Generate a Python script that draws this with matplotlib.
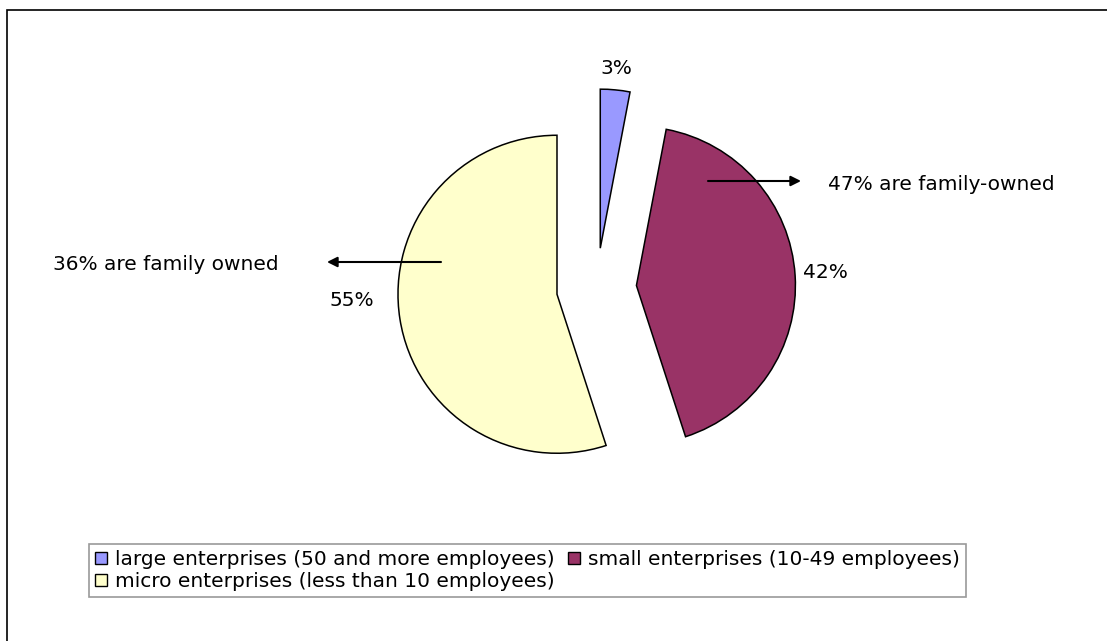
import numpy as np
import matplotlib.pyplot as plt
from matplotlib.patches import Rectangle

# Enterprise size shares (percent)
categories = ["large enterprises (50 and more employees)",
              "small enterprises (10-49 employees)",
              "micro enterprises (less than 10 employees)"]
shares = [3, 42, 55]
colors = ["#9999FF", "#993366", "#FFFFCC"]
family_notes = ["", "47% are family-owned", "36% are family owned"]

W, H = 1107, 641
FS = 14.5
plt.rcParams['font.family'] = ['DejaVu Sans']

fig = plt.figure(figsize=(W / 100, H / 100), dpi=100)
ax = fig.add_axes([0, 0, 1, 1])

# pie laid out in pixel units (y measured upward)
cx, cy, r = 596.5, H - 288, 159
wedges, _ = ax.pie(shares, explode=[40, 40, 40], center=(cx, cy), radius=r,
                   startangle=90, counterclock=False, colors=colors,
                   wedgeprops=dict(edgecolor="black", linewidth=1.1))
ax.set_xlim(0, W)
ax.set_ylim(0, H)
ax.set_aspect("equal")
ax.axis("off")

# percentage labels (pixel positions, image coords)
pct_xy = [(616, 69), (825, 272), (352, 300)]
for s, (x, y) in zip(shares, pct_xy):
    ax.text(x, H - y, f"{s}%", ha="center", va="center", fontsize=FS)

# family-owned annotations with arrows
arrow = dict(arrowstyle="-|>", color="black", lw=1.5,
             mutation_scale=15, shrinkA=0, shrinkB=0)
ax.annotate("", xy=(801, H - 181), xytext=(708, H - 181), arrowprops=arrow)
ax.text(828, H - 185, family_notes[1], fontsize=FS, va="center")
ax.annotate("", xy=(327, H - 262), xytext=(441, H - 262), arrowprops=arrow)
ax.text(53, H - 265, family_notes[2], fontsize=FS, va="center")

# legend: row 1 large + small, row 2 micro
order = [0, 2, 1]
leg = ax.legend([wedges[i] for i in order], [categories[i] for i in order],
                ncol=2, loc="upper left", bbox_to_anchor=(89 / W, 1 - 544 / H),
                fontsize=FS, frameon=True, fancybox=False, handlelength=0.6,
                handleheight=0.6, handletextpad=0.4, columnspacing=0.65,
                labelspacing=0.15, borderpad=0.3, borderaxespad=0)
leg.get_frame().set_edgecolor("#808080")
leg.get_frame().set_linewidth(1.2)
for h in leg.legend_handles:
    h.set_edgecolor("black")
    h.set_linewidth(1)

# outer chart border (only left and top visible)
fig.patches.append(Rectangle((7 / W, -0.1), 1.2, 1.1 - 10 / H,
                             transform=fig.transFigure, fill=False,
                             edgecolor="black", linewidth=1.2))

fig.savefig("out.png", dpi=100)
